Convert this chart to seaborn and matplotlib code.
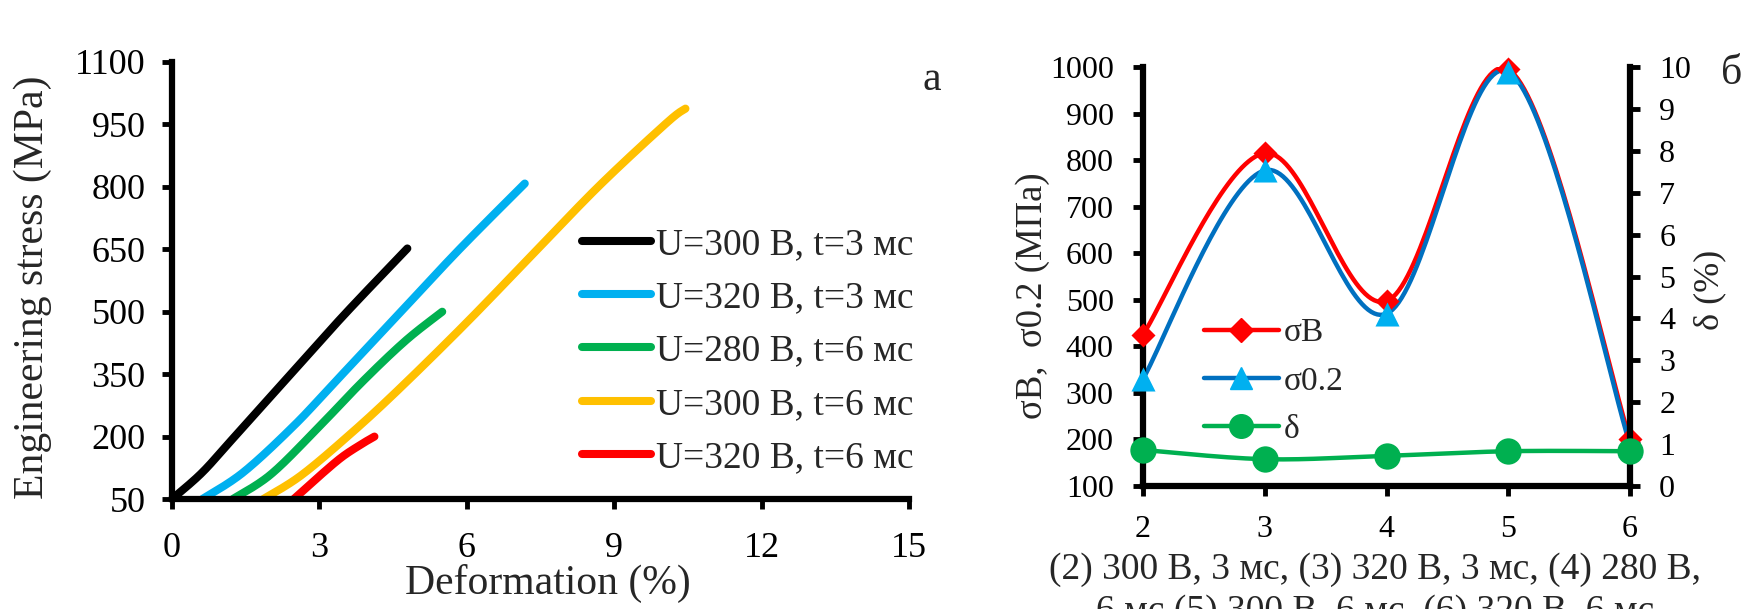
import numpy as np
import matplotlib
matplotlib.use("Agg")
import matplotlib.pyplot as plt
import seaborn as sns
from matplotlib.lines import Line2D

# ---------------- data ----------------
# Panel a: stress-strain curves (deformation %, stress MPa)
labels_a = ["U=300 В, t=3 мс", "U=320 В, t=3 мс", "U=280 В, t=6 мс",
            "U=300 В, t=6 мс", "U=320 В, t=6 мс"]
colors_a = ["#000000", "#00B0F0", "#00B050", "#FFC000", "#FF0000"]

def_300_3 = [0.0, 0.6, 1.2, 2.34, 3.5, 4.79]
str_300_3 = [50, 112, 190, 340, 492, 652]
def_320_3 = [0.62, 1.45, 2.48, 3.31, 4.62, 5.85, 7.18]
str_320_3 = [50, 114, 226, 330, 495, 650, 808]
def_280_6 = [1.24, 2.00, 2.90, 3.86, 4.75, 5.50]
str_280_6 = [50, 108, 212, 330, 430, 500]
def_300_6 = [1.86, 2.62, 3.59, 4.55, 5.93, 7.31, 8.69, 10.07, 10.45]
str_300_6 = [50, 106, 202, 306, 466, 634, 802, 954, 988]
def_320_6 = [2.48, 2.97, 3.45, 3.86, 4.12]
str_320_6 = [50, 102, 150, 182, 200]

xticks_a = [0, 3, 6, 9, 12, 15]
yticks_a = [50, 200, 350, 500, 650, 800, 950, 1100]

# Panel б: mechanical properties vs regime
regime = [2, 3, 4, 5, 6]
sigma_B = [425, 815, 497, 995, 200]
sigma_02 = [330, 778, 470, 990, 189]
delta = [0.86, 0.64, 0.72, 0.83, 0.83]

yticks_b = [100, 200, 300, 400, 500, 600, 700, 800, 900, 1000]
y2ticks_b = [0, 1, 2, 3, 4, 5, 6, 7, 8, 9, 10]

# ---------------- style ----------------
sns.set_theme(style="white")
plt.rcParams["font.family"] = ["Liberation Serif", "DejaVu Serif"]
plt.rcParams["axes.linewidth"] = 4.5

W, H = 1760, 609
fig = plt.figure(figsize=(W / 100, H / 100), dpi=100)
fig.patch.set_facecolor("white")


def smooth(x, y, sx, sy, n=40):
    """Catmull-Rom smoothing done in screen-proportional space."""
    pts = np.column_stack([np.asarray(x, float) * sx, np.asarray(y, float) * sy])
    P = np.vstack([pts[0], pts, pts[-1]])
    out = []
    t = np.linspace(0, 1, n, endpoint=False)[:, None]
    for i in range(1, len(P) - 2):
        p0, p1, p2, p3 = P[i - 1], P[i], P[i + 1], P[i + 2]
        seg = 0.5 * ((2 * p1) + (-p0 + p2) * t + (2 * p0 - 5 * p1 + 4 * p2 - p3) * t ** 2
                     + (-p0 + 3 * p1 - 3 * p2 + p3) * t ** 3)
        out.append(seg)
    out.append(pts[-1][None, :])
    s = np.vstack(out)
    return s[:, 0] / sx, s[:, 1] / sy


# ---------------- panel a ----------------
axL = fig.add_axes([172 / W, 1 - 499 / H, 737 / W, 437 / H])
axL.set_xlim(0, 15)
axL.set_ylim(50, 1100)
sxL, syL = 737 / 15, 437 / 1050
series_a = [(def_300_3, str_300_3), (def_320_3, str_320_3), (def_280_6, str_280_6),
            (def_300_6, str_300_6), (def_320_6, str_320_6)]
for (dx, sy_), c in zip(series_a, colors_a):
    xs, ys = smooth(dx, sy_, sxL, syL)
    sns.lineplot(x=xs, y=ys, ax=axL, color=c, linewidth=5.8, sort=False,
                 estimator=None, legend=False, solid_capstyle="round")
axL.set_xticks(xticks_a)
axL.set_yticks(yticks_a)
axL.tick_params(axis="x", labelsize=26, direction="out", length=7, width=3.5, pad=17,
                colors="black", bottom=True)
axL.tick_params(axis="y", labelsize=26, direction="out", length=7, width=3.5, pad=12,
                colors="black", left=True)
for s in ["top", "right"]:
    axL.spines[s].set_visible(False)
for s in ["left", "bottom"]:
    axL.spines[s].set_color("black")
    axL.spines[s].set_linewidth(4.5)
axL.set_xlabel("")
axL.set_ylabel("")
handles_a = [Line2D([0], [0], color=c, lw=5.8, solid_capstyle="round") for c in colors_a]
axL.legend(handles_a, labels_a, loc="center left", bbox_to_anchor=(0.556, 0.338),
           frameon=False, fontsize=27, handlelength=1.85, handletextpad=0.12,
           labelspacing=0.5, borderpad=0, borderaxespad=0)

fig.text(548 / W, 1 - 583 / H, "Deformation (%)", fontsize=30, ha="center", va="center")
fig.text(33 / W, 1 - 287 / H, "Engineering stress (MPa)", fontsize=30, rotation=90,
         ha="center", va="center")
fig.text(932 / W, 1 - 80 / H, "а", fontsize=30, ha="center", va="center")

# ---------------- panel б ----------------
axR = fig.add_axes([1143 / W, 1 - 486 / H, 487 / W, 419 / H])
axR.set_xlim(2, 6)
axR.set_ylim(100, 1000)
axR2 = axR.twinx()
axR2.set_ylim(0, 10)
sxR, syR = 487 / 4, 419 / 900
syR2 = 419 / 10

xs, ys = smooth(regime, sigma_B, sxR, syR)
sns.lineplot(x=xs, y=ys, ax=axR, color="#FF0000", linewidth=3.2, sort=False,
             estimator=None, legend=False)
sns.scatterplot(x=regime, y=sigma_B, ax=axR, marker="D", s=150, color="#FF0000",
                edgecolor="#FF0000", linewidth=0, clip_on=False, zorder=5, legend=False)
xs, ys = smooth(regime, sigma_02, sxR, syR)
sns.lineplot(x=xs, y=ys, ax=axR, color="#0070C0", linewidth=3.2, sort=False,
             estimator=None, legend=False)
sns.scatterplot(x=regime, y=sigma_02, ax=axR, marker="^", s=300, color="#00B0F0",
                edgecolor="#00B0F0", linewidth=0, clip_on=False, zorder=6, legend=False)
xs, ys = smooth(regime, delta, sxR, syR2)
sns.lineplot(x=xs, y=ys, ax=axR2, color="#00B050", linewidth=3.2, sort=False,
             estimator=None, legend=False)
sns.scatterplot(x=regime, y=delta, ax=axR2, marker="o", s=360, color="#00B050",
                edgecolor="#00B050", linewidth=0, clip_on=False, zorder=6, legend=False)

axR.set_xticks(regime)
axR.set_yticks(yticks_b)
axR2.set_yticks(y2ticks_b)
axR.tick_params(axis="x", labelsize=23, direction="out", length=7, width=3.5, pad=14,
                colors="black", bottom=True)
axR.tick_params(axis="y", labelsize=23, direction="out", length=7, width=3.5, pad=14,
                colors="black", left=True)
axR2.tick_params(axis="y", labelsize=23, direction="out", length=7, width=3.5, pad=14,
                 colors="black", right=True)
for a in (axR, axR2):
    a.spines["top"].set_visible(False)
    a.set_xlabel("")
    a.set_ylabel("")
axR.spines["right"].set_visible(False)
axR2.spines["left"].set_visible(False)
axR2.spines["bottom"].set_visible(False)
for a, s in ((axR, "left"), (axR, "bottom"), (axR2, "right")):
    a.spines[s].set_color("black")
    a.spines[s].set_linewidth(4.5)
axR2.set_xlim(2, 6)

handles_b = [
    Line2D([0], [0], color="#FF0000", lw=3.2, marker="D", ms=12, mfc="#FF0000", mec="#FF0000"),
    Line2D([0], [0], color="#0070C0", lw=3.2, marker="^", ms=16, mfc="#00B0F0", mec="#00B0F0"),
    Line2D([0], [0], color="#00B050", lw=3.2, marker="o", ms=17, mfc="#00B050", mec="#00B050"),
]
axR2.legend(handles_b, ["σB", "σ0.2", "δ"], loc="center left", bbox_to_anchor=(0.125, 0.25),
            frameon=False, fontsize=24, handlelength=2.25, handletextpad=0.15,
            labelspacing=0.53, borderpad=0, borderaxespad=0)

fig.text(1033 / W, 1 - 296 / H, "σB,  σ0.2 (МПа)", fontsize=26.5, rotation=90,
         ha="center", va="center")
fig.text(1710 / W, 1 - 290 / H, "δ (%)", fontsize=26, rotation=90, ha="center", va="center")
fig.text(1732 / W, 1 - 74 / H, "б", fontsize=30, ha="center", va="center")
fig.text(1375 / W, 1 - 570 / H, "(2) 300 В, 3 мс, (3) 320 В, 3 мс, (4) 280 В,",
         fontsize=27, ha="center", va="center")
fig.text(1375 / W, 1 - 612 / H, "6 мс (5) 300 В, 6 мс, (6) 320 В, 6 мс",
         fontsize=27, ha="center", va="center")

fig.savefig("out.png", dpi=100, facecolor="white")
